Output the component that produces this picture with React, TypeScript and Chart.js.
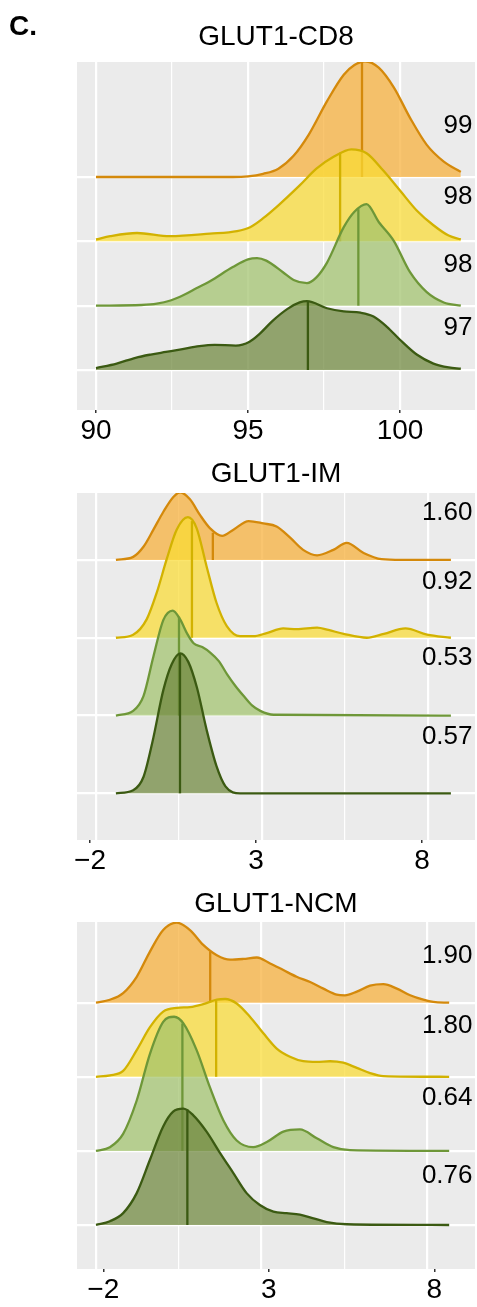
import React, { useEffect, useRef } from "react";
import { Chart, registerables } from "chart.js";

Chart.register(...registerables);

const FONT = "'Liberation Sans', Arial, Helvetica, sans-serif";

// ---------- shared styling ----------
const strokeColors = ["#D4890B", "#D2B200", "#6E9738", "#3B5A12"];
const fillColors = [
  "rgba(246,175,56,0.72)",
  "rgba(249,219,51,0.72)",
  "rgba(161,194,108,0.72)",
  "rgba(109,134,59,0.72)",
];
// row baselines (top row first)
const rowBase = [4, 3, 2, 1];

// ---------- GLUT1-CD8 ----------
const cd8OrangeX = [90, 94.5, 95, 95.5, 96, 96.5, 97, 97.6, 98.15, 98.5, 98.85, 99.3, 99.8, 100.33, 100.88, 101.44, 102];
const cd8OrangeH = [0, 0, 0.01, 0.05, 0.13, 0.33, 0.66, 1.18, 1.59, 1.74, 1.8, 1.7, 1.39, 0.92, 0.5, 0.24, 0.08];
const cd8YellowX = [90, 90.47, 91.35, 92.43, 93.75, 94.64, 95.07, 95.5, 96.0, 96.7, 97.25, 97.8, 98.4, 98.9, 99.45, 100, 100.55, 101.1, 101.6, 102];
const cd8YellowH = [0.03, 0.08, 0.13, 0.08, 0.12, 0.16, 0.22, 0.36, 0.56, 0.87, 1.13, 1.31, 1.43, 1.37, 1.1, 0.79, 0.48, 0.25, 0.09, 0.03];
const cd8LightX = [90, 91.5, 92.0, 92.45, 92.9, 93.3, 93.75, 94.5, 95.0, 95.3, 95.6, 96.15, 96.5, 96.94, 97.25, 97.6, 98.15, 98.5, 98.9, 99.3, 99.79, 100.33, 100.88, 101.44, 102];
const cd8LightH = [0, 0.01, 0.03, 0.08, 0.17, 0.27, 0.38, 0.6, 0.72, 0.74, 0.7, 0.52, 0.4, 0.35, 0.44, 0.67, 1.22, 1.46, 1.58, 1.3, 1.01, 0.52, 0.21, 0.05, 0];
const cd8DarkX = [90, 90.68, 91.3, 91.8, 92.3, 92.8, 93.4, 93.9, 94.6, 95.05, 95.4, 95.8, 96.3, 96.7, 96.94, 97.6, 98.15, 98.7, 99.13, 99.57, 100, 100.55, 101.1, 101.6, 102];
const cd8DarkH = [0.03, 0.1, 0.19, 0.24, 0.28, 0.32, 0.37, 0.39, 0.38, 0.44, 0.57, 0.76, 0.95, 1.05, 1.07, 0.96, 0.91, 0.89, 0.83, 0.67, 0.47, 0.24, 0.1, 0.04, 0.02];
const cd8Median = [98.75, 98.03, 98.63, 96.97];
const cd8MedianTop = [1.79, 1.38, 1.5, 1.07];
const cd8Labels = ["99", "98", "98", "97"];
const cd8GridTicks = [90, 92.5, 95, 97.5, 100];
const cd8AxisTicks = [90, 95, 100];

// ---------- GLUT1-IM ----------
const imOrangeX = [-1.4, -0.88, -0.57, -0.27, 0.03, 0.33, 0.54, 0.83, 1.13, 1.43, 1.8, 2.14, 2.6, 3.04, 3.44, 3.84, 4.24, 4.66, 5.15, 5.55, 6.06, 6.6, 7.2, 8.69];
const imOrangeH = [0, 0.04, 0.17, 0.39, 0.62, 0.81, 0.87, 0.78, 0.58, 0.41, 0.31, 0.39, 0.5, 0.47, 0.43, 0.29, 0.13, 0.06, 0.13, 0.22, 0.09, 0.01, 0, 0];
const imYellowX = [-1.4, -0.88, -0.47, -0.17, 0.13, 0.43, 0.77, 1.03, 1.33, 1.63, 1.94, 2.34, 2.74, 3.14, 3.64, 4.05, 4.66, 5.0, 5.46, 6.16, 6.67, 7.32, 7.97, 8.69];
const imYellowH = [0, 0.04, 0.24, 0.58, 1.01, 1.39, 1.55, 1.41, 0.92, 0.45, 0.15, 0.02, 0.02, 0.06, 0.12, 0.11, 0.13, 0.1, 0.05, 0, 0.05, 0.12, 0.04, 0];
const imLightX = [-1.4, -0.88, -0.57, -0.27, 0.03, 0.31, 0.53, 0.75, 0.94, 1.2, 1.44, 1.7, 1.95, 2.2, 2.45, 2.7, 2.95, 3.35, 8.69];
const imLightH = [0, 0.06, 0.25, 0.76, 1.23, 1.35, 1.24, 1.05, 0.93, 0.88, 0.81, 0.7, 0.53, 0.38, 0.25, 0.13, 0.06, 0.01, 0];
const imDarkX = [-1.4, -0.88, -0.57, -0.3, 0.03, 0.28, 0.54, 0.78, 1.04, 1.33, 1.63, 1.9, 2.34, 8.69];
const imDarkH = [0, 0.04, 0.21, 0.66, 1.33, 1.66, 1.8, 1.69, 1.36, 0.82, 0.35, 0.09, 0, 0];
const imMedian = [1.52, 0.89, 0.5, 0.53];
const imMedianTop = [0.35, 1.5, 1.27, 1.8];
const imLabels = ["1.60", "0.92", "0.53", "0.57"];

// ---------- GLUT1-NCM ----------
const ncmOrangeX = [-2, -1.58, -1.18, -0.77, -0.37, 0.03, 0.44, 0.84, 1.24, 1.65, 2.05, 2.45, 2.86, 3.26, 3.66, 4.06, 4.47, 4.87, 5.27, 5.52, 5.88, 6.28, 6.68, 7.09, 7.49, 7.89, 8.19, 8.67];
const ncmOrangeH = [0, 0.04, 0.13, 0.35, 0.69, 0.98, 1.08, 0.98, 0.78, 0.64, 0.58, 0.59, 0.61, 0.53, 0.44, 0.35, 0.28, 0.19, 0.11, 0.1, 0.15, 0.23, 0.25, 0.19, 0.1, 0.04, 0.01, 0];
const ncmYellowX = [-2, -1.58, -1.18, -0.77, -0.37, 0.03, 0.44, 0.84, 1.24, 1.65, 1.9, 2.25, 2.65, 3.05, 3.46, 3.86, 4.26, 4.67, 5.07, 5.47, 5.88, 6.28, 6.68, 8.67];
const ncmYellowH = [0, 0.02, 0.08, 0.36, 0.67, 0.88, 0.93, 0.94, 0.98, 1.04, 1.05, 0.99, 0.81, 0.59, 0.38, 0.27, 0.21, 0.2, 0.21, 0.19, 0.12, 0.05, 0.01, 0];
const ncmLightX = [-2, -1.58, -1.18, -0.77, -0.37, 0.03, 0.36, 0.64, 1.04, 1.44, 1.85, 2.25, 2.75, 3.16, 3.66, 4.16, 4.67, 5.17, 5.67, 8.67];
const ncmLightH = [0, 0.05, 0.23, 0.68, 1.31, 1.74, 1.81, 1.72, 1.36, 0.86, 0.41, 0.14, 0.05, 0.12, 0.26, 0.29, 0.17, 0.05, 0.01, 0];
const ncmDarkX = [-2, -1.58, -1.18, -0.77, -0.37, 0.03, 0.33, 0.64, 0.94, 1.34, 1.75, 2.15, 2.55, 2.95, 3.36, 3.76, 4.16, 4.57, 4.97, 5.57, 8.67];
const ncmDarkH = [0, 0.05, 0.16, 0.43, 0.88, 1.33, 1.53, 1.57, 1.48, 1.26, 0.97, 0.7, 0.43, 0.27, 0.18, 0.16, 0.14, 0.09, 0.04, 0.01, 0];
const ncmMedian = [1.45, 1.63, 0.61, 0.76];
const ncmMedianTop = [0.69, 1.03, 1.72, 1.56];
const ncmLabels = ["1.90", "1.80", "0.64", "0.76"];

const smallGridTicks = [-2, 0.5, 3, 5.5, 8];
const smallAxisTicks = [-2, 3, 8];

// ---------- layout (pixels / axis ranges) ----------
type Panel = {
  title: string;
  top: number;
  height: number;
  titlePad: { top: number; bottom: number };
  axisHeight: number;
  xMin: number;
  xMax: number;
  tickShift: number;
  yMin: number;
  yMax: number;
  xs: number[][];
  hs: number[][];
  median: number[];
  medianTop: number[];
  labels: string[];
  labelOffsets: number[];
  gridTicks: number[];
  axisTicks: number[];
  letter?: string;
};

const panels: Panel[] = [
  {
    title: "GLUT1-CD8",
    top: 0,
    height: 450,
    titlePad: { top: 20.2, bottom: 8.2 },
    axisHeight: 40,
    xMin: 89.375,
    xMax: 102.467,
    tickShift: 0,
    yMin: 0.378,
    yMax: 5.788,
    xs: [cd8OrangeX, cd8YellowX, cd8LightX, cd8DarkX],
    hs: [cd8OrangeH, cd8YellowH, cd8LightH, cd8DarkH],
    median: cd8Median,
    medianTop: cd8MedianTop,
    labels: cd8Labels,
    labelOffsets: [0.79, 0.69, 0.64, 0.65],
    gridTicks: cd8GridTicks,
    axisTicks: cd8AxisTicks,
    letter: "C.",
  },
  {
    title: "GLUT1-IM",
    top: 450,
    height: 430,
    titlePad: { top: 7.0, bottom: 2.4 },
    axisHeight: 40,
    xMin: -2.572,
    xMax: 9.416,
    tickShift: 0.18,
    yMin: 0.4,
    yMax: 4.861,
    xs: [imOrangeX, imYellowX, imLightX, imDarkX],
    hs: [imOrangeH, imYellowH, imLightH, imDarkH],
    median: imMedian,
    medianTop: imMedianTop,
    labels: imLabels,
    labelOffsets: [0.6, 0.72, 0.74, 0.73],
    gridTicks: smallGridTicks,
    axisTicks: smallAxisTicks,
  },
  {
    title: "GLUT1-NCM",
    top: 880,
    height: 427,
    titlePad: { top: 7.4, bottom: 1.0 },
    axisHeight: 38,
    xMin: -2.574,
    xMax: 9.45,
    tickShift: -0.22,
    yMin: 0.406,
    yMax: 5.089,
    xs: [ncmOrangeX, ncmYellowX, ncmLightX, ncmDarkX],
    hs: [ncmOrangeH, ncmYellowH, ncmLightH, ncmDarkH],
    median: ncmMedian,
    medianTop: ncmMedianTop,
    labels: ncmLabels,
    labelOffsets: [0.63, 0.69, 0.72, 0.67],
    gridTicks: smallGridTicks,
    axisTicks: smallAxisTicks,
  },
];

function fmtTick(v: number): string {
  return v < 0 ? "\u2212" + Math.abs(v) : String(v);
}

function buildConfig(p: Panel): any {
  const datasets: any[] = [];
  for (let i = 0; i < 4; i++) {
    const base = rowBase[i];
    const ridgeOrder = 7 - 2 * i; // lower rows drawn on top
    datasets.push({
      type: "line",
      xAxisID: "xg",
      yAxisID: "y",
      data: p.xs[i].map((x, k) => ({ x, y: base + p.hs[i][k] })),
      borderColor: strokeColors[i],
      backgroundColor: fillColors[i],
      borderWidth: 2.3,
      pointRadius: 0,
      cubicInterpolationMode: "monotone",
      fill: { value: base },
      order: ridgeOrder,
    });
    datasets.push({
      type: "line",
      xAxisID: "xg",
      yAxisID: "y",
      data: [
        { x: p.median[i], y: base },
        { x: p.median[i], y: base + p.medianTop[i] },
      ],
      borderColor: strokeColors[i],
      borderWidth: 2.3,
      pointRadius: 0,
      fill: false,
      order: ridgeOrder - 1,
    });
  }

  const decor = {
    id: "ridgeDecor",
    beforeDraw(chart: any) {
      const { ctx, chartArea } = chart;
      ctx.save();
      ctx.fillStyle = "#EBEBEB";
      ctx.fillRect(chartArea.left, chartArea.top, chartArea.right - chartArea.left, chartArea.bottom - chartArea.top);
      ctx.restore();
    },
    afterDatasetsDraw(chart: any) {
      const { ctx, chartArea } = chart;
      const ys = chart.scales.y;
      ctx.save();
      ctx.fillStyle = "#000";
      ctx.font = `26px ${FONT}`;
      ctx.textAlign = "right";
      ctx.textBaseline = "middle";
      for (let i = 0; i < 4; i++) {
        const yy = ys.getPixelForValue(rowBase[i] + p.labelOffsets[i]);
        ctx.fillText(p.labels[i], chartArea.right - 2.5, yy);
      }
      if (p.letter) {
        ctx.font = `bold 28px ${FONT}`;
        ctx.textAlign = "left";
        ctx.textBaseline = "alphabetic";
        ctx.fillText(p.letter, 9, 35);
      }
      ctx.restore();
    },
  };

  return {
    type: "line",
    data: { datasets },
    plugins: [decor],
    options: {
      animation: false,
      responsive: false,
      devicePixelRatio: 1,
      events: [],
      layout: { padding: { left: 77, right: 2, top: 0, bottom: 0 } },
      plugins: {
        legend: { display: false },
        tooltip: { enabled: false },
        title: {
          display: true,
          text: p.title,
          color: "#000",
          font: { family: FONT, size: 28, weight: "normal", lineHeight: 1.2 },
          padding: p.titlePad,
        },
      },
      scales: {
        xg: {
          type: "linear",
          position: "bottom",
          min: p.xMin,
          max: p.xMax,
          afterBuildTicks: (s: any) => {
            s.ticks = p.gridTicks.map((v) => ({ value: v }));
          },
          afterFit: (s: any) => {
            s.height = 0;
          },
          ticks: { display: false },
          border: { display: false },
          grid: {
            drawTicks: false,
            color: "#FFFFFF",
            lineWidth: (c: any) => (p.axisTicks.indexOf(p.gridTicks[c.index]) >= 0 ? 2.2 : 1.2),
          },
        },
        x: {
          type: "linear",
          position: "bottom",
          min: p.xMin + p.tickShift,
          max: p.xMax + p.tickShift,
          afterBuildTicks: (s: any) => {
            s.ticks = p.axisTicks.map((v) => ({ value: v }));
          },
          afterFit: (s: any) => {
            s.height = p.axisHeight;
          },
          border: { display: false },
          grid: {
            drawOnChartArea: false,
            drawTicks: true,
            tickLength: 3,
            color: "#333333",
            lineWidth: 1.5,
          },
          ticks: {
            padding: 1,
            color: "#000",
            autoSkip: false,
            maxRotation: 0,
            font: { family: FONT, size: 28 },
            callback: (v: any) => fmtTick(Number(v)),
          },
        },
        y: {
          type: "linear",
          position: "left",
          min: p.yMin,
          max: p.yMax,
          afterBuildTicks: (s: any) => {
            s.ticks = rowBase.map((v) => ({ value: v }));
          },
          afterFit: (s: any) => {
            s.width = 0;
          },
          ticks: { display: false },
          border: { display: false },
          grid: { drawTicks: false, color: "#FFFFFF", lineWidth: 2.2 },
        },
      },
    },
  };
}

function RidgePanel({ panel }: { panel: Panel }) {
  const ref = useRef<HTMLCanvasElement | null>(null);
  useEffect(() => {
    if (!ref.current) return;
    const chart = new Chart(ref.current, buildConfig(panel));
    return () => chart.destroy();
  }, [panel]);
  return (
    <canvas
      ref={ref}
      width={477}
      height={panel.height}
      style={{ position: "absolute", left: 0, top: panel.top, width: 477, height: panel.height, display: "block" }}
    />
  );
}

export default function App() {
  return (
    <div style={{ position: "absolute", left: 0, top: 0, width: 477, height: 1307, background: "#fff", overflow: "hidden" }}>
      {panels.map((p) => (
        <RidgePanel key={p.title} panel={p} />
      ))}
    </div>
  );
}
